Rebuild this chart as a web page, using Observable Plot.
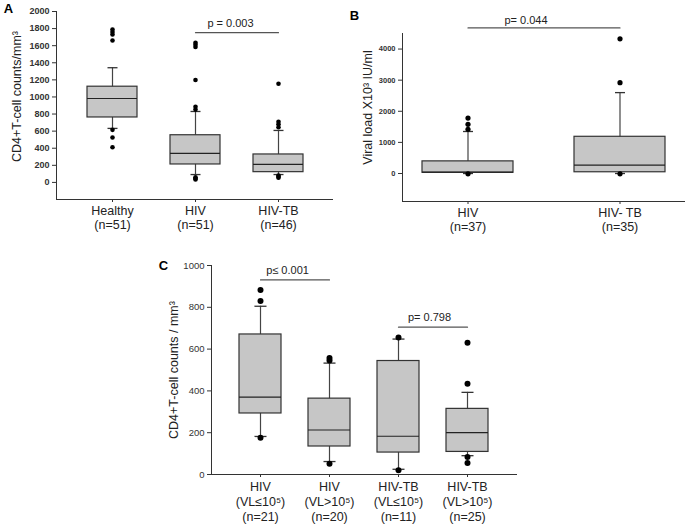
<!DOCTYPE html>
<html><head><meta charset="utf-8">
<script src="https://cdn.jsdelivr.net/npm/d3@7"></script>
<script src="https://cdn.jsdelivr.net/npm/@observablehq/plot@0.6"></script>
<style>
body{margin:0;background:#fff;}
#wrap{position:relative;width:686px;height:527px;overflow:hidden;background:#fff;font-family:"Liberation Sans",Arial,sans-serif;}
#wrap svg{position:absolute;left:0;top:0;}
</style></head><body><div id="wrap"></div>
<script>
// ---------- Panel A ----------
const A_cats = ["Healthy", "HIV", "HIV-TB"];
const A_n = [51, 51, 46];
const A_q1 = [760, 210, 120];
const A_median = [982, 340, 210];
const A_q3 = [1120, 552, 327];
const A_lo = [632, 92, 92];
const A_hi = [1342, 830, 608];
const A_out = [[1790, 1760, 1730, 1660, 615, 525, 412], [1635, 1612, 1585, 1198, 885, 852, 60, 45, 35], [1155, 710, 680, 645, 80, 65, 55]];
const A_yTicks = [0, 200, 400, 600, 800, 1000, 1200, 1400, 1600, 1800, 2000];
const A_yLabel = "CD4+T-cell counts/mm³";
const A_p = [{from: 1, to: 2, y: 1752, label: "p = 0.003"}];

// ---------- Panel B ----------
const B_cats = ["HIV", "HIV- TB"];
const B_n = [37, 35];
const B_q1 = [22, 40];
const B_median = [42, 270];
const B_q3 = [390, 1180];
const B_lo = [0, 0];
const B_hi = [1350, 2600];
const B_out = [[1780, 1580, 1420, -12], [4330, 2920, -12]];
const B_yTicks = [0, 1000, 2000, 3000, 4000];
const B_yLabel = "Viral load X10³ IU/ml";
const B_p = [{from: 0, to: 1, y: 4680, label: "p= 0.044"}];

// ---------- Panel C ----------
const C_cats = ["HIV", "HIV", "HIV-TB", "HIV-TB"];
const C_vl = ["(VL≤10⁵)", "(VL>10⁵)", "(VL≤10⁵)", "(VL>10⁵)"];
const C_n = [21, 20, 11, 25];
const C_q1 = [292, 134, 105, 108];
const C_median = [370, 213, 183, 200];
const C_q3 = [670, 363, 543, 314];
const C_lo = [182, 62, 25, 90];
const C_hi = [805, 533, 648, 393];
const C_out = [[883, 830, 176], [558, 545, 52], [656, 20], [630, 434, 84, 55]];
const C_yTicks = [0, 200, 400, 600, 800, 1000];
const C_yLabel = "CD4+T-cell counts / mm³";
const C_p = [{from: 0, to: 1, y: 931, label: "p≤ 0.001"}, {from: 2, to: 3, y: 705, label: "p= 0.798"}];

const capSymbol = {draw(ctx, size) { const w = Math.sqrt(size / Math.PI); ctx.moveTo(-w, 0); ctx.lineTo(w, 0); }};

function panel(cfg) {
  const keys = cfg.labels;
  const rows = keys.map((k, i) => ({key: k, q1: cfg.q1[i], median: cfg.median[i], q3: cfg.q3[i], lo: cfg.lo[i], hi: cfg.hi[i]}));
  const caps = rows.flatMap(r => [{key: r.key, y: r.lo}, {key: r.key, y: r.hi}]);
  const outs = keys.flatMap((k, i) => cfg.out[i].map(v => ({key: k, y: v})));
  const pLines = cfg.p.flatMap((p, j) => [{g: j, key: keys[p.from], y: p.y}, {g: j, key: keys[p.to], y: p.y}]);
  const pText = cfg.p.map((p, j) => ({key: keys[p.from], y: p.y, label: p.label, dx: cfg.pdx[j], dy: cfg.pdy[j]}));
  const fr = cfg.frame;
  return Plot.plot({
    width: 686, height: 527,
    marginLeft: fr[0], marginRight: 686 - fr[1], marginTop: fr[2], marginBottom: 527 - fr[3],
    style: {background: "transparent", fontFamily: "'Liberation Sans', Arial, sans-serif", color: "#333", overflow: "visible"},
    x: {domain: keys, paddingInner: cfg.padIn, paddingOuter: cfg.padOut, align: 0.5},
    y: {domain: cfg.yDomain},
    marks: [
      Plot.axisY(cfg.yTicks, {tickSize: 4, tickPadding: 3, fontSize: cfg.tickFont, fontWeight: cfg.tickWeight, fill: "#333", stroke: "#333", tickFormat: d => String(d), label: null}),
      Plot.axisX(keys, {tickSize: 3, tickPadding: 3, fontSize: 12.5, lineHeight: cfg.lineHeight, fill: "#222", stroke: "#333", label: null}),
      Plot.frame({anchor: "left", stroke: "#333"}),
      Plot.ruleY([cfg.yDomain[0]], {stroke: "#333"}),
      Plot.ruleX(rows, {x: "key", y1: "lo", y2: "hi", stroke: "#444", strokeWidth: 1.2}),
      Plot.barY(rows, {x: "key", y1: "q1", y2: "q3", fill: "#c6c6c6", stroke: "#333", strokeWidth: 1.2}),
      Plot.tickY(rows, {x: "key", y: "median", stroke: "#222", strokeWidth: 1.2}),
      Plot.dot(caps, {x: "key", y: "y", symbol: capSymbol, r: cfg.capR, fill: "none", stroke: "#333", strokeWidth: 1.3}),
      Plot.dot(outs, {x: "key", y: "y", r: cfg.dotR, fill: "#000", stroke: "none"}),
      Plot.line(pLines, {x: "key", y: "y", z: "g", stroke: "#555", strokeWidth: 1.2}),
      ...pText.map(t => Plot.text([t], {x: "key", y: "y", text: "label", dx: t.dx, dy: t.dy, fontSize: 11, fill: "#222"})),
      Plot.text([cfg.yLabel], {text: d => d, frameAnchor: "left", textAnchor: "middle", lineAnchor: "middle", rotate: -90, dx: cfg.labDx, dy: cfg.labDy, fontSize: 12.5, fill: "#222"}),
      Plot.text([cfg.letter], {text: d => d, frameAnchor: "top-left", textAnchor: "middle", lineAnchor: "middle", dx: cfg.letDx, dy: cfg.letDy, fontSize: 13, fontWeight: "bold", fill: "#000"})
    ]
  });
}

const wrap = document.getElementById("wrap");
wrap.appendChild(panel({
  labels: A_cats.map((c, i) => `${c}\n(n=${A_n[i]})`),
  q1: A_q1, median: A_median, q3: A_q3, lo: A_lo, hi: A_hi, out: A_out,
  yTicks: A_yTicks, yDomain: [-200, 2000], yLabel: A_yLabel, p: A_p, pdx: [35], pdy: [-9],
  frame: [56, 333, 11, 199], padIn: 0.4, padOut: 0.35, lineHeight: 1.12,
  tickFont: 9, tickWeight: "bold", capR: 5, dotR: 2.3,
  labDx: -40, labDy: -9, letter: "A", letDx: -48, letDy: -3
}));
wrap.appendChild(panel({
  labels: B_cats.map((c, i) => `${c}\n(n=${B_n[i]})`),
  q1: B_q1, median: B_median, q3: B_q3, lo: B_lo, hi: B_hi, out: B_out,
  yTicks: B_yTicks, yDomain: [-900, 4500], yLabel: B_yLabel, p: B_p, pdx: [58], pdy: [-7],
  frame: [402, 685, 33, 201], padIn: 0.4, padOut: 0.13, lineHeight: 1.12,
  tickFont: 7.5, tickWeight: "bold", capR: 5, dotR: 2.6,
  labDx: -35, labDy: -10, letter: "B", letDx: -48, letDy: -18
}));
wrap.appendChild(panel({
  labels: C_cats.map((c, i) => `${c}\n${C_vl[i]}\n(n=${C_n[i]})`),
  q1: C_q1, median: C_median, q3: C_q3, lo: C_lo, hi: C_hi, out: C_out,
  yTicks: C_yTicks, yDomain: [0, 1000], yLabel: C_yLabel, p: C_p, pdx: [27, 31], pdy: [-9, -10],
  frame: [211, 517, 265, 474], padIn: 0.386, padOut: 0.38, lineHeight: 1.2,
  tickFont: 9.5, tickWeight: "normal", capR: 6, dotR: 3,
  labDx: -38, labDy: 0, letter: "C", letDx: -48, letDy: 0
}));
</script></body></html>
